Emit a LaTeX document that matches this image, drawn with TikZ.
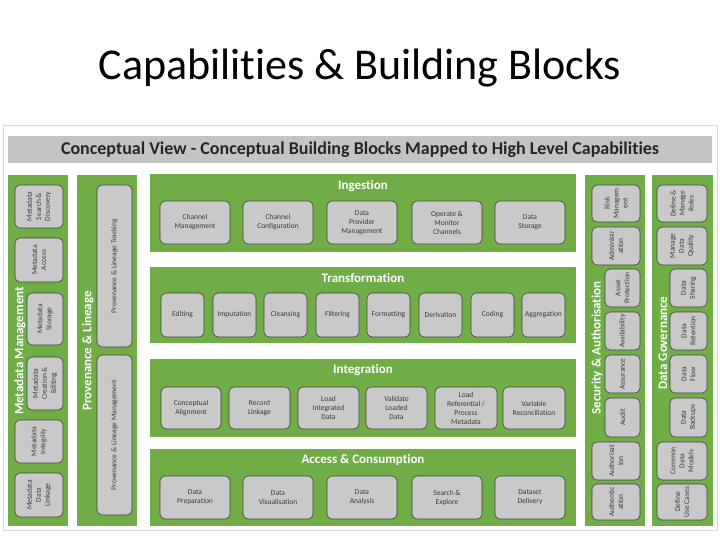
\documentclass[tikz,border=0pt]{standalone}
\usepackage{fontspec}
\setmainfont{Carlito}[RawFeature={-liga;-clig;-calt;-dlig}]
\definecolor{green1}{HTML}{70AD47}
\definecolor{boxfill}{HTML}{C9C9C9}
\definecolor{boxline}{HTML}{3F3F3F}
\definecolor{boxtext}{HTML}{3A3A3A}
\definecolor{headergrey}{HTML}{C4C4C4}
\definecolor{framegrey}{HTML}{D6D6D6}
\newcommand\bx[6]{\node[box, minimum width={(#4-#2)*1pt}, minimum height={(#5-#3)*1pt}] (#1) at ({(#2+#4)/2},{(#3+#5)/2}) {#6};}
\newcommand\vbx[6]{\node[box, rotate=90, minimum width={(#5-#3)*1pt}, minimum height={(#4-#2)*1pt}] (#1) at ({(#2+#4)/2},{(#3+#5)/2}) {#6};}
\newcommand\band[5]{\node[band, minimum width={(#4-#2)*1pt}, minimum height={(#5-#3)*1pt}] (#1) at ({(#2+#4)/2},{(#3+#5)/2}) {};}
\begin{document}
\begin{tikzpicture}[x=1pt,y=-1pt,
  box/.style={draw=boxline, fill=boxfill, rounded corners=5pt, line width=0.6pt, text=boxtext, align=center, font=\fontsize{7.5}{9}\selectfont, inner sep=1pt},
  band/.style={fill=green1, draw=none, inner sep=0pt},
  bandtitle/.style={text=white, font=\bfseries\fontsize{13}{14}\selectfont, inner sep=0pt},
  coltitle/.style={text=white, font=\bfseries\fontsize{13}{14}\selectfont, rotate=90, inner sep=0pt}]
\useasboundingbox (0,0) rectangle (720,540);
\fill[white] (0,0) rectangle (720,540);
\node[font=\fontsize{44}{46}\selectfont, inner sep=0pt] (title) at (360,68) {Capabilities \& Building Blocks};
\draw[draw=framegrey, fill=white, line width=0.8pt] (3,125) rectangle (717,530);
\node[fill=headergrey, minimum width=704pt, minimum height=27pt, inner sep=0pt, font=\bfseries\fontsize{18}{20}\selectfont, text=black!85] (header) at (360,149.5) {Conceptual View - Conceptual Building Blocks Mapped to High Level Capabilities};
% side columns
\band{mdcol}{8}{175}{68}{526}
\band{pvcol}{77}{175}{137}{526}
\band{sccol}{585}{175}{645}{526}
\band{dgcol}{652}{175}{713}{526}
% central bands
\band{ingb}{150}{174}{576}{252}
\band{trb}{150}{267}{576}{343}
\band{intb}{150}{359}{576}{437}
\band{accb}{150}{449}{576}{526}
\node[bandtitle] (ingt) at (363,186) {Ingestion};
\node[bandtitle] (trt) at (363,278) {Transformation};
\node[bandtitle] (intt) at (363,370) {Integration};
\node[bandtitle] (acct) at (363,460) {Access \& Consumption};
% column titles
\node[coltitle] (mdt) at (20,351) {Metadata Management};
\node[coltitle] (pvt) at (88,351) {Provenance \& Lineage};
\node[coltitle] (sct) at (597,348) {Security \& Authorisation};
\node[coltitle] (dgt) at (663,343) {Data Governance};
% metadata management
\vbx{md1}{15}{185}{63}{228}{Metadata\\Search \&\\Discovery}
\vbx{md2}{15}{238}{63}{282}{Metadata\\Access}
\vbx{md3}{27}{293}{63}{345}{Metadata\\Storage}
\vbx{md4}{27}{357}{63}{410}{Metadata\\Creation \&\\Editing}
\vbx{md5}{15}{420}{63}{463}{Metadata\\Integrity}
\vbx{md6}{15}{473}{63}{517}{Metadata\\Data\\Linkage}
% provenance
\vbx{pv1}{97}{185}{132}{347}{Provenance \& Lineage Tracking}
\vbx{pv2}{97}{355}{132}{515}{Provenance \& Lineage Management}
% security
\vbx{sc1}{592}{185}{640}{222}{Risk\\Managem\\ent}
\vbx{sc2}{592}{227}{640}{265}{Administr\\ation}
\vbx{sc3}{605}{269}{640}{307}{Asset\\Protection}
\vbx{sc4}{605}{312}{640}{350}{Availability}
\vbx{sc5}{605}{355}{640}{393}{Assurance}
\vbx{sc6}{605}{398}{640}{437}{Audit}
\vbx{sc7}{592}{442}{640}{480}{Authorisat\\ion}
\vbx{sc8}{592}{484}{640}{520}{Authentic\\ation}
% governance
\vbx{dg1}{657}{185}{707}{222}{Define \&\\Manage\\Roles}
\vbx{dg2}{657}{227}{707}{265}{Manage\\Data\\Quality}
\vbx{dg3}{670}{269}{707}{307}{Data\\Sharing}
\vbx{dg4}{670}{312}{707}{350}{Data\\Retention}
\vbx{dg5}{670}{355}{707}{393}{Data\\Flow}
\vbx{dg6}{670}{398}{707}{437}{Data\\Backups}
\vbx{dg7}{657}{442}{707}{480}{Common\\Data\\Models}
\vbx{dg8}{657}{484}{707}{520}{Define\\Use Cases}
% ingestion
\bx{in1}{160}{201}{230}{244}{Channel\\Management}
\bx{in2}{243}{201}{313}{244}{Channel\\Configuration}
\bx{in3}{327}{201}{397}{244}{Data\\Provider\\Management}
\bx{in4}{412}{201}{482}{244}{Operate \&\\Monitor\\Channels}
\bx{in5}{495}{201}{565}{244}{Data\\Storage}
% transformation
\bx{tr1}{161}{293}{204}{337}{Editing}
\bx{tr2}{213}{293}{256}{337}{Imputation}
\bx{tr3}{264}{293}{307}{337}{Cleansing}
\bx{tr4}{316}{293}{359}{337}{Filtering}
\bx{tr5}{367}{293}{410}{337}{Formatting}
\bx{tr6}{419}{293}{462}{337}{Derivation}
\bx{tr7}{471}{293}{514}{337}{Coding}
\bx{tr8}{522}{293}{565}{337}{Aggregation}
% integration
\bx{it1}{161}{387}{221}{429}{Conceptual\\Alignment}
\bx{it2}{229}{387}{290}{429}{Record\\Linkage}
\bx{it3}{298}{387}{359}{429}{Load\\Integrated\\Data}
\bx{it4}{366}{387}{427}{429}{Validate\\Loaded\\Data}
\bx{it5}{435}{387}{497}{429}{Load\\Referential /\\Process\\Metadata}
\bx{it6}{503}{387}{565}{429}{Variable\\Reconciliation}
% access
\bx{ac1}{160}{476}{230}{519}{Data\\Preparation}
\bx{ac2}{243}{476}{313}{519}{Data\\Visualisation}
\bx{ac3}{327}{476}{397}{519}{Data\\Analysis}
\bx{ac4}{412}{476}{482}{519}{Search \&\\Explore}
\bx{ac5}{495}{476}{565}{519}{Dataset\\Delivery}
\end{tikzpicture}
\end{document}
